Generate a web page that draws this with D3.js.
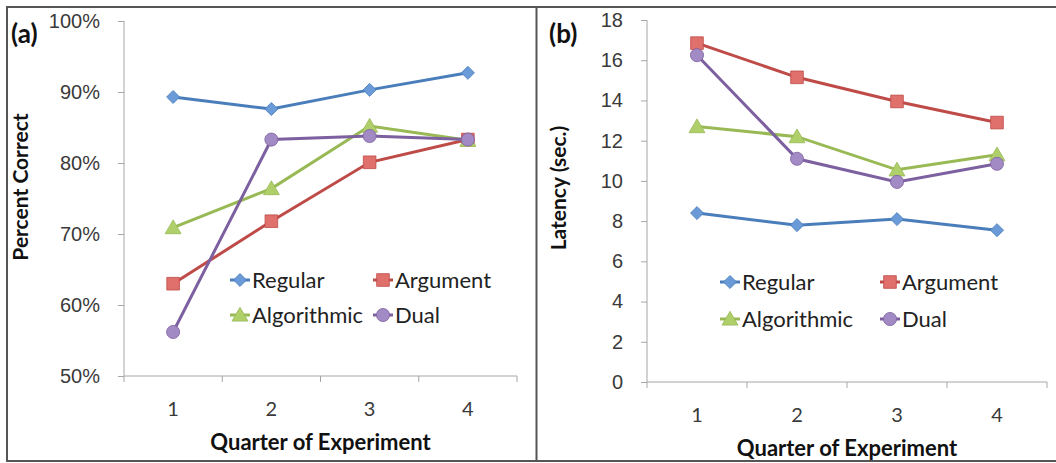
<!DOCTYPE html>
<html>
  <head>
    <meta charset="utf-8">
    <script src="https://d3js.org/d3.v7.min.js"></script>
    <style>
      body { margin: 0; background: #fff; }
      svg { display: block; font-family: Lato, "Open Sans", sans-serif; }
      .axis path, .axis line { stroke: #a6a6a6; }
      .axis text { fill: #3a3a3a; font-size: 20px; }
    </style>
  </head>
  <body>
    <script>
      const quarters = [1, 2, 3, 4]
      const seriesNames = ["Regular", "Argument", "Algorithmic", "Dual"]

      // panel (a): percent correct
      const correctRegular = [89.3, 87.6, 90.3, 92.7]
      const correctArgument = [63.0, 71.8, 80.1, 83.3]
      const correctAlgorithmic = [70.9, 76.4, 85.2, 83.2]
      const correctDual = [56.2, 83.3, 83.8, 83.3]

      // panel (b): latency in seconds
      const latencyRegular = [8.4, 7.8, 8.1, 7.55]
      const latencyArgument = [16.85, 15.15, 13.95, 12.9]
      const latencyAlgorithmic = [12.7, 12.2, 10.55, 11.3]
      const latencyDual = [16.25, 11.1, 9.95, 10.85]

      const percentTicks = [50, 60, 70, 80, 90, 100]
      const latencyTicks = [0, 2, 4, 6, 8, 10, 12, 14, 16, 18]

      const lineColors = ["#4a7ebb", "#be4b48", "#98b954", "#7d60a0"]
      const markColors = ["#6a9bd8", "#e0706c", "#aecf6a", "#a28bc4"]
      // diamond is drawn as a square turned 45 degrees
      const shapes = [d3.symbolSquare, d3.symbolSquare, d3.symbolTriangle, d3.symbolCircle]
      const turns = [45, 0, 0, 0]
      const sizes = [85, 160, 110, 135]

      const W = 1056, H = 463
      const svg = d3.select("body").append("svg")
        .attr("width", W)
        .attr("height", H)

      // outer frame and divider
      svg.append("rect")
        .attr("x", 7).attr("y", 7)
        .attr("width", W).attr("height", 454)
        .attr("fill", "none").attr("stroke", "#555").attr("stroke-width", 2)
      svg.append("line")
        .attr("x1", 536.5).attr("x2", 536.5).attr("y1", 7).attr("y2", 461)
        .attr("stroke", "#555").attr("stroke-width", 2)

      function marker(sel, k) {
        sel.attr("d", d3.symbol().type(shapes[k]).size(sizes[k]))
          .attr("fill", markColors[k])
          .attr("stroke", lineColors[k])
          .attr("stroke-width", 0.8)
      }

      function drawPanel(p) {
        const g = svg.append("g")
        const x = d3.scaleBand().domain(quarters).range([p.x0, p.x1])
        const y = d3.scaleLinear().domain(p.domain).range([p.y1, p.y0])
        const cx = q => x(q) + x.bandwidth() / 2

        g.append("g")
          .attr("class", "axis")
          .attr("transform", "translate(" + p.x0 + ",0)")
          .call(d3.axisLeft(y).tickValues(p.ticks).tickSize(6).tickPadding(18).tickFormat(p.fmt))
          .call(a => a.select(".domain").attr("d", "M0," + p.y0 + "V" + p.y1))

        const xAxis = g.append("g")
          .attr("class", "axis")
          .attr("transform", "translate(0," + p.y1 + ")")
        xAxis.append("line")
          .attr("x1", p.x0).attr("x2", p.x1)
          .attr("stroke", "#a6a6a6")
        const edges = quarters.map(q => x(q)).concat([p.x1])
        xAxis.selectAll(".edge").data(edges).enter().append("line")
          .attr("class", "edge")
          .attr("x1", d => d).attr("x2", d => d)
          .attr("y1", 0).attr("y2", 6)
        xAxis.selectAll("text").data(quarters).enter().append("text")
          .attr("x", d => cx(d))
          .attr("y", 40)
          .attr("text-anchor", "middle")
          .text(d => d)

        const line = d3.line()
          .x((d, i) => cx(quarters[i]))
          .y(d => y(d))

        p.series.forEach((vals, k) => {
          g.append("path")
            .attr("d", line(vals))
            .attr("fill", "none")
            .attr("stroke", lineColors[k])
            .attr("stroke-width", 3)
        })
        p.series.forEach((vals, k) => {
          g.selectAll(".m" + k).data(vals).enter().append("path")
            .attr("class", "m" + k)
            .attr("transform", (d, i) => "translate(" + cx(quarters[i]) + "," + (y(d) + (k === 2 ? 1.5 : 0)) + ") rotate(" + turns[k] + ")")
            .call(marker, k)
        })

        // legend
        const leg = g.append("g")
        seriesNames.forEach((name, k) => {
          const lx = p.legX + (k % 2) * p.legDx
          const ly = p.legY + Math.floor(k / 2) * p.legDy
          leg.append("line")
            .attr("x1", lx - 10).attr("x2", lx + 10)
            .attr("y1", ly).attr("y2", ly)
            .attr("stroke", lineColors[k]).attr("stroke-width", 3)
          leg.append("path")
            .attr("transform", "translate(" + lx + "," + (ly + (k === 2 ? 1.5 : 0)) + ") rotate(" + turns[k] + ")")
            .call(marker, k)
          leg.append("text")
            .attr("x", lx + 12).attr("y", ly)
            .attr("dy", "0.35em")
            .attr("font-size", 22)
            .attr("fill", "#222")
            .text(name)
        })

        // titles
        g.append("text")
          .attr("x", p.panelX).attr("y", 43)
          .attr("font-size", 26).attr("font-weight", "bold")
          .attr("fill", "#111")
          .text(p.label)
        g.append("text")
          .attr("transform", "translate(" + p.yTitleX + "," + p.yTitleY + ") rotate(-90)")
          .attr("text-anchor", "middle")
          .attr("font-size", 21).attr("font-weight", "bold")
          .attr("fill", "#111")
          .text(p.yTitle)
        g.append("text")
          .attr("x", (p.x0 + p.x1) / 2).attr("y", p.xTitleY)
          .attr("text-anchor", "middle")
          .attr("font-size", 22).attr("font-weight", "bold")
          .attr("fill", "#111")
          .text("Quarter of Experiment")
      }

      drawPanel({
        x0: 124, x1: 517, y0: 21, y1: 376,
        domain: [50, 100], ticks: percentTicks, fmt: d => d + "%",
        series: [correctRegular, correctArgument, correctAlgorithmic, correctDual],
        legX: 240, legY: 280, legDx: 143, legDy: 35,
        label: "(a)", panelX: 11, yTitle: "Percent Correct", yTitleX: 28, yTitleY: 187, xTitleY: 450
      })

      drawPanel({
        x0: 647, x1: 1047, y0: 20, y1: 382,
        domain: [0, 18], ticks: latencyTicks, fmt: d => d,
        series: [latencyRegular, latencyArgument, latencyAlgorithmic, latencyDual],
        legX: 730, legY: 282, legDx: 160, legDy: 37,
        label: "(b)", panelX: 549, yTitle: "Latency (sec.)", yTitleX: 566, yTitleY: 188, xTitleY: 456
      })
    </script>
  </body>
</html>
